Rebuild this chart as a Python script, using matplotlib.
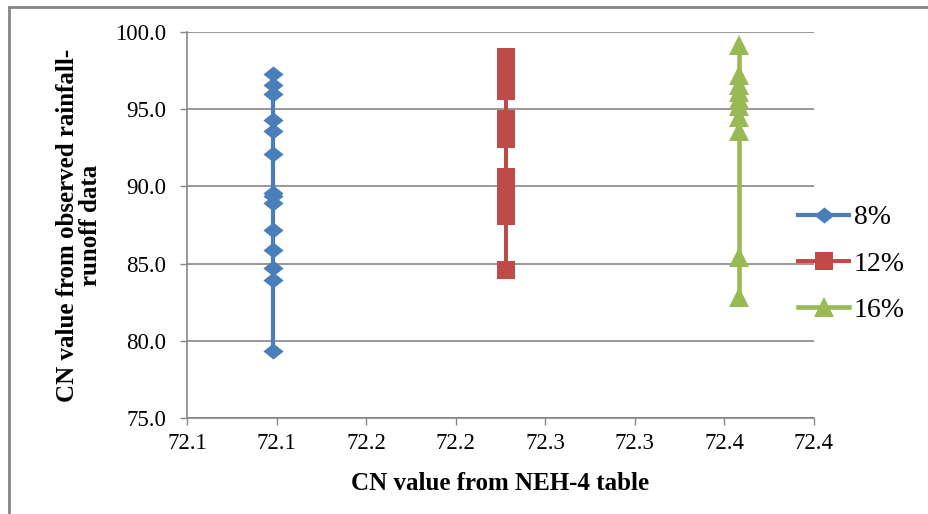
import numpy as np
from matplotlib import pyplot as plt
from matplotlib.lines import Line2D

# CN from NEH-4 table (x) and observed CN values (y) for each slope
series_names = ["8%", "12%", "16%"]
x_neh4 = [72.148, 72.278, 72.408]

cn_8 = [97.3, 96.6, 96.0, 94.3, 93.6, 92.1, 89.6, 89.4, 88.9, 87.2, 85.9, 84.7, 83.9, 79.3]
cn_12 = [98.4, 97.9, 97.4, 96.9, 96.5, 96.2, 94.4, 93.8, 93.1,
         90.6, 90.0, 89.5, 89.0, 88.6, 88.1, 84.6]
cn_16 = [99.2, 97.2, 96.6, 96.1, 95.7, 95.2, 94.5, 93.6, 85.4, 82.8]

x_ticks = [72.10, 72.15, 72.20, 72.25, 72.30, 72.35, 72.40, 72.45]
x_ticklabels = ["72.1", "72.1", "72.2", "72.2", "72.3", "72.3", "72.4", "72.4"]
y_ticks = [75, 80, 85, 90, 95, 100]

plt.rcParams['font.family'] = ['Liberation Serif', 'DejaVu Serif']

colors = ["#4A7EBB", "#BE4B48", "#98B954"]
diamond = [(-1, 0), (0, 0.8), (1, 0), (0, -0.8), (-1, 0)]
markers = [diamond, "s", "^"]
msizes = [14.5, 13.2, 13.7]
lwidths = [3.0, 2.9, 3.3]

fig = plt.figure(figsize=(9.29, 5.14), dpi=100)
ax = fig.add_axes([187 / 929, 1 - 417.7 / 514, (814 - 187) / 929, (417.7 - 32.3) / 514])

all_y = [cn_8, cn_12, cn_16]
handles = []
for x, ys, c, m, ms, lw, name in zip(x_neh4, all_y, colors, markers, msizes, lwidths, series_names):
    ys = np.asarray(ys)
    ax.plot(np.full(len(ys), x), ys, color=c, linewidth=lw, marker=m,
            markersize=ms, markeredgewidth=0, zorder=3)
    handles.append(Line2D([], [], color=c, linewidth=lw, marker=m,
                          markersize=ms, markeredgewidth=0, label=name))

ax.set_xlim(72.10, 72.45)
ax.set_ylim(75, 100)
ax.set_xticks(x_ticks)
ax.set_xticklabels(x_ticklabels, fontfamily="Liberation Serif")
ax.set_yticks(y_ticks)
ax.set_yticklabels([f"{v:.1f}" for v in y_ticks], fontfamily="Liberation Serif")
ax.tick_params(axis="both", labelsize=16.5, colors="#868686", labelcolor="black",
               length=5, width=1)
ax.tick_params(axis="x", pad=6)
ax.tick_params(axis="y", pad=10)

ax.yaxis.grid(True, color="#868686", linewidth=1.2)
ax.set_axisbelow(True)
for s in ["top", "right"]:
    ax.spines[s].set_visible(False)
for s in ["left", "bottom"]:
    ax.spines[s].set_color("#868686")
    ax.spines[s].set_linewidth(1.2)

ax.set_xlabel("CN value from NEH-4 table", fontsize=18, fontweight="bold", va="center")
ax.xaxis.set_label_coords(0.5, (417.7 - 484) / 385.4)
ax.set_ylabel("CN value from observed rainfall-\nrunoff data", fontsize=18,
              fontweight="bold", linespacing=0.95, va="center", ha="center")
ax.yaxis.set_label_coords((79 - 187) / 627, (417.7 - 225) / 385.4)

fig.legend(handles=handles, loc="center left", bbox_to_anchor=(787 / 929, 1 - 264 / 514),
           frameon=False, fontsize=20, handlelength=1.85, handletextpad=0.15,
           labelspacing=0.75, borderaxespad=0)

# chart border
fig.add_artist(Line2D([9 / 929, 9 / 929], [0, 1 - 7 / 514], transform=fig.transFigure,
                      color="#868686", linewidth=2))
fig.add_artist(Line2D([9 / 929, 1], [1 - 7 / 514, 1 - 7 / 514], transform=fig.transFigure,
                      color="#868686", linewidth=2))

fig.savefig("out.png", dpi=100)
